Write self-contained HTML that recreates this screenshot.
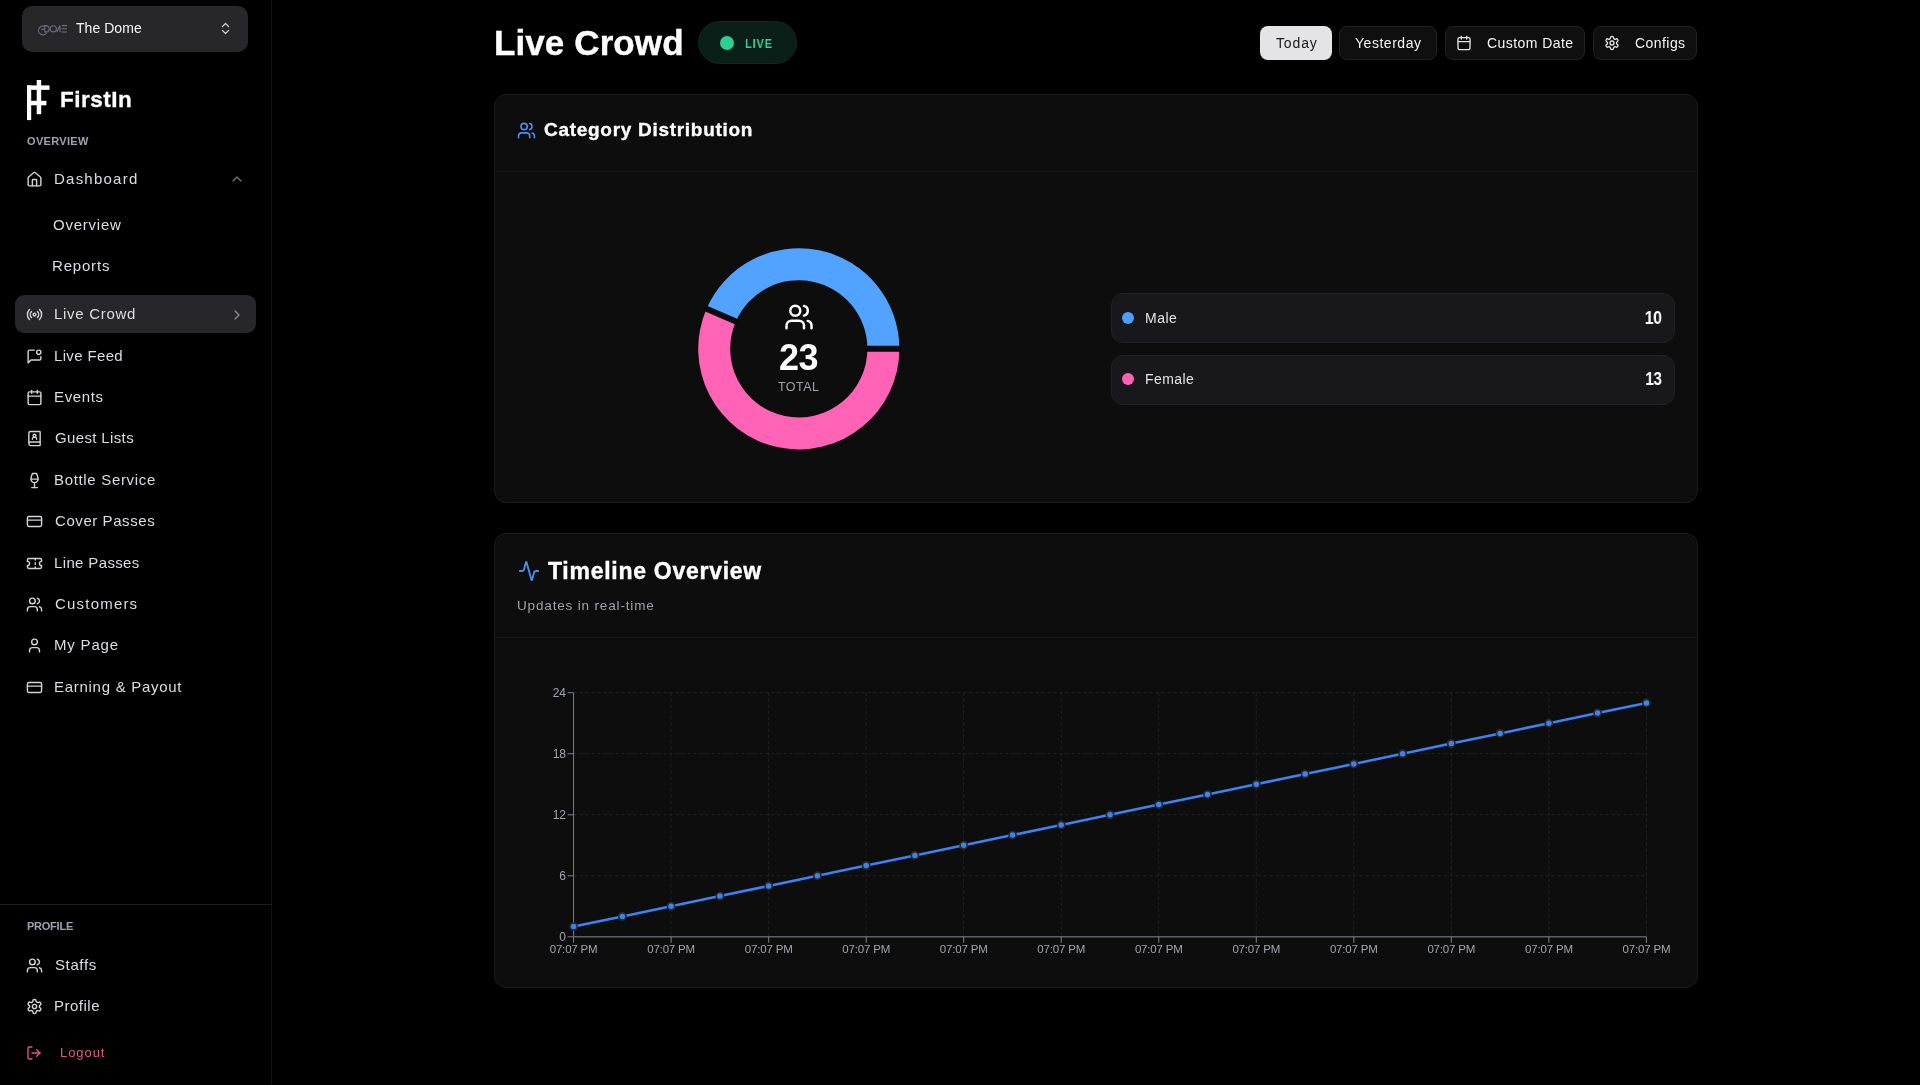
<!DOCTYPE html>
<html><head><meta charset="utf-8">
<style>
*{box-sizing:border-box;margin:0;padding:0}
html,body{width:1920px;height:1085px;overflow:hidden;background:#000;font-family:"Liberation Sans",sans-serif;color:#e4e4e7}
.abs{position:absolute}
.t{position:absolute;line-height:1;white-space:nowrap;will-change:transform}
.box{position:absolute}
</style></head>
<body>
<!-- sidebar -->
<div class="box" style="left:271px;top:0;width:1px;height:1085px;background:#151516"></div>
<div class="box" style="left:0;top:904px;width:271px;height:1px;background:#1d1e21"></div>
<div class="box" style="left:22px;top:6px;width:226px;height:46px;background:#27272a;border-radius:10px"></div>
<svg class="abs" style="left:37px;top:24px" width="31" height="12" viewBox="0 0 31 12"><g fill="none" stroke="#6b7280" stroke-width="1.1"><path d="M8 2.6 A4.4 4.4 0 1 0 9.7 8.6"/><path d="M4.2 5.2 h3" stroke="#8b93a3" stroke-width="0.9"/><path d="M7.8 1.6 v6.4 h1.3 a3.1 3.2 0 0 0 0 -6.4 z"/><circle cx="16.3" cy="4.8" r="3.1"/><path d="M19.8 8 L23 1.6 V8"/><path d="M25 1.6 h5 M24.6 4.8 h5.4 M24.6 8 h5.4"/></g></svg>
<div class="t" style="left:76px;top:21.00px;font-size:14px;letter-spacing:0.05px;color:#f4f4f5">The Dome</div>
<svg class="abs" style="left:218px;top:21px" width="15" height="15" viewBox="0 0 24 24" fill="none" stroke="#d4d4d8" stroke-width="2" stroke-linecap="round" stroke-linejoin="round"><path d="m7 15 5 5 5-5"/><path d="m7 9 5-5 5 5"/></svg>
<svg class="abs" style="left:26.9px;top:79.8px" width="23" height="41" viewBox="0 0 23 41"><g fill="#fff"><rect x="0" y="5.4" width="4.2" height="34.7"/><rect x="9.7" y="0" width="4.5" height="34.2"/><rect x="0" y="5.4" width="22.5" height="4.45"/><rect x="0" y="20.8" width="19.4" height="4.5"/></g></svg>
<div class="t" style="left:60.3px;top:88.80px;font-size:22.5px;letter-spacing:0.5px;color:#fff;font-weight:bold;-webkit-text-stroke:0.3px #fff">FirstIn</div>
<div class="t" style="left:26.8px;top:135.80px;font-size:11px;letter-spacing:0.33px;color:#9ca3af;font-weight:bold">OVERVIEW</div>
<div class="t" style="left:26.6px;top:921.20px;font-size:11px;letter-spacing:-0.24px;color:#9ca3af;font-weight:bold">PROFILE</div>
<div class="box" style="left:15px;top:295.3px;width:241px;height:37.5px;background:#27272a;border-radius:9px"></div>
<svg class="abs" style="left:228.6px;top:171.1px" width="16" height="16" viewBox="0 0 24 24" fill="none" stroke="#71717a" stroke-width="2" stroke-linecap="round" stroke-linejoin="round"><path d="m18 15-6-6-6 6"/></svg>
<svg class="abs" style="left:228.7px;top:306.9px" width="16" height="16" viewBox="0 0 24 24" fill="none" stroke="#8a8a92" stroke-width="2" stroke-linecap="round" stroke-linejoin="round"><path d="m9 18 6-6-6-6"/></svg>
<svg class="abs" style="left:26.4px;top:170.55px" width="17" height="17" viewBox="0 0 24 24" fill="none" stroke="#d4d4d8" stroke-width="2" stroke-linecap="round" stroke-linejoin="round"><path d="M15 21v-8a1 1 0 0 0-1-1h-4a1 1 0 0 0-1 1v8"/><path d="M3 10a2 2 0 0 1 .709-1.528l7-5.999a2 2 0 0 1 2.582 0l7 5.999A2 2 0 0 1 21 10v9a2 2 0 0 1-2 2H5a2 2 0 0 1-2-2z"/></svg>
<div class="t" style="left:54px;top:170.75px;font-size:15px;letter-spacing:1.23px;color:#dcdde2">Dashboard</div>
<div class="t" style="left:53px;top:217.00px;font-size:15px;letter-spacing:0.77px;color:#dcdde2">Overview</div>
<div class="t" style="left:52px;top:257.90px;font-size:15px;letter-spacing:0.81px;color:#dcdde2">Reports</div>
<svg class="abs" style="left:26.4px;top:305.8px" width="17" height="17" viewBox="0 0 24 24" fill="none" stroke="#d4d4d8" stroke-width="2" stroke-linecap="round" stroke-linejoin="round"><path d="M4.9 19.1C1 15.2 1 8.8 4.9 4.9"/><path d="M7.8 16.2c-2.3-2.3-2.3-6.1 0-8.5"/><circle cx="12" cy="12" r="2"/><path d="M16.2 7.8c2.3 2.3 2.3 6.1 0 8.5"/><path d="M19.1 4.9C23 8.8 23 15.1 19.1 19"/></svg>
<div class="t" style="left:54px;top:306.00px;font-size:15px;letter-spacing:0.7px;color:#dcdde2">Live Crowd</div>
<svg class="abs" style="left:26.4px;top:347.6px" width="17" height="17" viewBox="0 0 24 24" fill="none" stroke="#d4d4d8" stroke-width="2" stroke-linecap="round" stroke-linejoin="round"><path d="M11.7 3H5a2 2 0 0 0-2 2v16l4-4h12a2 2 0 0 0 2-2v-2.7"/><circle cx="18" cy="6" r="3"/></svg>
<div class="t" style="left:54px;top:347.80px;font-size:15px;letter-spacing:0.35px;color:#dcdde2">Live Feed</div>
<svg class="abs" style="left:26.4px;top:388.7px" width="17" height="17" viewBox="0 0 24 24" fill="none" stroke="#d4d4d8" stroke-width="2" stroke-linecap="round" stroke-linejoin="round"><path d="M8 2v4"/><path d="M16 2v4"/><rect width="18" height="18" x="3" y="4" rx="2"/><path d="M3 10h18"/></svg>
<div class="t" style="left:54px;top:388.90px;font-size:15px;letter-spacing:0.65px;color:#dcdde2">Events</div>
<svg class="abs" style="left:26.4px;top:430.0px" width="17" height="17" viewBox="0 0 24 24" fill="none" stroke="#d4d4d8" stroke-width="2" stroke-linecap="round" stroke-linejoin="round"><path d="M15 13a3 3 0 1 0-6 0"/><path d="M4 19.5v-15A2.5 2.5 0 0 1 6.5 2H19a1 1 0 0 1 1 1v18a1 1 0 0 1-1 1H6.5a1 1 0 0 1 0-5H20"/><circle cx="12" cy="8" r="2"/></svg>
<div class="t" style="left:55px;top:430.20px;font-size:15px;letter-spacing:0.36px;color:#dcdde2">Guest Lists</div>
<svg class="abs" style="left:26.4px;top:471.5px" width="17" height="17" viewBox="0 0 24 24" fill="none" stroke="#d4d4d8" stroke-width="2" stroke-linecap="round" stroke-linejoin="round"><path d="M8 22h8"/><path d="M7 10h10"/><path d="M12 15v7"/><path d="M12 15a5 5 0 0 0 5-5c0-2-.5-4-2-8H9c-1.5 4-2 6-2 8a5 5 0 0 0 5 5Z"/></svg>
<div class="t" style="left:54px;top:471.70px;font-size:15px;letter-spacing:0.67px;color:#dcdde2">Bottle Service</div>
<svg class="abs" style="left:26.4px;top:512.9px" width="17" height="17" viewBox="0 0 24 24" fill="none" stroke="#d4d4d8" stroke-width="2" stroke-linecap="round" stroke-linejoin="round"><rect width="20" height="14" x="2" y="5" rx="2"/><line x1="2" x2="22" y1="10" y2="10"/></svg>
<div class="t" style="left:55px;top:513.10px;font-size:15px;letter-spacing:0.57px;color:#dcdde2">Cover Passes</div>
<svg class="abs" style="left:26.4px;top:554.7px" width="17" height="17" viewBox="0 0 24 24" fill="none" stroke="#d4d4d8" stroke-width="2" stroke-linecap="round" stroke-linejoin="round"><path d="M2 9a3 3 0 0 1 0 6v2a2 2 0 0 0 2 2h16a2 2 0 0 0 2-2v-2a3 3 0 0 1 0-6V7a2 2 0 0 0-2-2H4a2 2 0 0 0-2 2Z"/><path d="M13 5v2"/><path d="M13 17v2"/><path d="M13 11v2"/></svg>
<div class="t" style="left:54px;top:554.90px;font-size:15px;letter-spacing:0.36px;color:#dcdde2">Line Passes</div>
<svg class="abs" style="left:26.4px;top:595.9px" width="17" height="17" viewBox="0 0 24 24" fill="none" stroke="#d4d4d8" stroke-width="2" stroke-linecap="round" stroke-linejoin="round"><path d="M16 21v-2a4 4 0 0 0-4-4H6a4 4 0 0 0-4 4v2"/><circle cx="9" cy="7" r="4"/><path d="M22 21v-2a4 4 0 0 0-3-3.87"/><path d="M16 3.13a4 4 0 0 1 0 7.75"/></svg>
<div class="t" style="left:55px;top:596.10px;font-size:15px;letter-spacing:1.2px;color:#dcdde2">Customers</div>
<svg class="abs" style="left:26.4px;top:636.8px" width="17" height="17" viewBox="0 0 24 24" fill="none" stroke="#d4d4d8" stroke-width="2" stroke-linecap="round" stroke-linejoin="round"><path d="M19 21v-2a4 4 0 0 0-4-4H9a4 4 0 0 0-4 4v2"/><circle cx="12" cy="7" r="4"/></svg>
<div class="t" style="left:54px;top:637.00px;font-size:15px;letter-spacing:0.81px;color:#dcdde2">My Page</div>
<svg class="abs" style="left:26.4px;top:678.5px" width="17" height="17" viewBox="0 0 24 24" fill="none" stroke="#d4d4d8" stroke-width="2" stroke-linecap="round" stroke-linejoin="round"><rect width="20" height="14" x="2" y="5" rx="2"/><line x1="2" x2="22" y1="10" y2="10"/></svg>
<div class="t" style="left:54px;top:678.70px;font-size:15px;letter-spacing:0.72px;color:#dcdde2">Earning &amp; Payout</div>
<svg class="abs" style="left:26.4px;top:956.8px" width="17" height="17" viewBox="0 0 24 24" fill="none" stroke="#d4d4d8" stroke-width="2" stroke-linecap="round" stroke-linejoin="round"><path d="M16 21v-2a4 4 0 0 0-4-4H6a4 4 0 0 0-4 4v2"/><circle cx="9" cy="7" r="4"/><path d="M22 21v-2a4 4 0 0 0-3-3.87"/><path d="M16 3.13a4 4 0 0 1 0 7.75"/></svg>
<div class="t" style="left:55px;top:957.00px;font-size:15px;letter-spacing:0.62px;color:#dcdde2">Staffs</div>
<svg class="abs" style="left:26.4px;top:997.9px" width="17" height="17" viewBox="0 0 24 24" fill="none" stroke="#d4d4d8" stroke-width="2" stroke-linecap="round" stroke-linejoin="round"><path d="M12.22 2h-.44a2 2 0 0 0-2 2v.18a2 2 0 0 1-1 1.73l-.43.25a2 2 0 0 1-2 0l-.15-.08a2 2 0 0 0-2.73.73l-.22.38a2 2 0 0 0 .73 2.73l.15.1a2 2 0 0 1 1 1.72v.51a2 2 0 0 1-1 1.74l-.15.09a2 2 0 0 0-.73 2.73l.22.38a2 2 0 0 0 2.73.73l.15-.08a2 2 0 0 1 2 0l.43.25a2 2 0 0 1 1 1.73V20a2 2 0 0 0 2 2h.44a2 2 0 0 0 2-2v-.18a2 2 0 0 1 1-1.73l.43-.25a2 2 0 0 1 2 0l.15.08a2 2 0 0 0 2.73-.73l.22-.39a2 2 0 0 0-.73-2.73l-.15-.08a2 2 0 0 1-1-1.74v-.5a2 2 0 0 1 1-1.74l.15-.09a2 2 0 0 0 .73-2.73l-.22-.38a2 2 0 0 0-2.73-.73l-.15.08a2 2 0 0 1-2 0l-.43-.25a2 2 0 0 1-1-1.73V4a2 2 0 0 0-2-2z"/><circle cx="12" cy="12" r="3"/></svg>
<div class="t" style="left:54px;top:998.10px;font-size:15px;letter-spacing:0.5px;color:#dcdde2">Profile</div>
<svg class="abs" style="left:26px;top:1045.2px" width="16" height="16" viewBox="0 0 24 24" fill="none" stroke="#e0588a" stroke-width="2" stroke-linecap="round" stroke-linejoin="round"><path d="M9 21H5a2 2 0 0 1-2-2V5a2 2 0 0 1 2-2h4"/><polyline points="16 17 21 12 16 7"/><line x1="21" x2="9" y1="12" y2="12"/></svg>
<div class="t" style="left:59.8px;top:1046.40px;font-size:13px;letter-spacing:0.93px;color:#e0588a">Logout</div>

<!-- header -->
<div class="t" style="left:493.8px;top:24.90px;font-size:35px;letter-spacing:0.1px;color:#fff;font-weight:bold;-webkit-text-stroke:0.4px #fff">Live Crowd</div>
<div class="box" style="left:698px;top:21px;width:99px;height:43px;border-radius:22px;background:#0a1f17;border:1px solid #0e2a1f"></div>
<div class="box" style="left:720.2px;top:35.5px;width:14px;height:14px;border-radius:7px;background:#2fcf93"></div>
<div class="t" style="left:744.9px;top:36.80px;font-size:13.5px;letter-spacing:1.0px;color:#34d399;font-weight:bold;transform:scaleX(0.82);transform-origin:left">LIVE</div>

<div class="box" style="left:1260px;top:25.5px;width:71.5px;height:34px;border-radius:8px;background:#e4e4e7"></div>
<div class="t" style="left:1275.6px;top:35.90px;font-size:14px;letter-spacing:0.86px;color:#18181b">Today</div>
<div class="box" style="left:1339px;top:25.5px;width:98px;height:34px;border-radius:8px;background:#0f0f0f;border:1px solid #222"></div>
<div class="t" style="left:1355px;top:35.90px;font-size:14px;letter-spacing:0.53px;color:#f4f4f5">Yesterday</div>
<div class="box" style="left:1444.5px;top:25.5px;width:140.5px;height:34px;border-radius:8px;background:#0f0f0f;border:1px solid #222"></div>
<svg class="abs" style="left:1456.3px;top:34.7px" width="16" height="16" viewBox="0 0 24 24" fill="none" stroke="#e4e4e7" stroke-width="2" stroke-linecap="round" stroke-linejoin="round"><path d="M8 2v4"/><path d="M16 2v4"/><rect width="18" height="18" x="3" y="4" rx="2"/><path d="M3 10h18"/></svg>
<div class="t" style="left:1486.7px;top:36.00px;font-size:14px;letter-spacing:0.44px;color:#f4f4f5">Custom Date</div>
<div class="box" style="left:1593px;top:25.5px;width:104px;height:34px;border-radius:8px;background:#0f0f0f;border:1px solid #222"></div>
<svg class="abs" style="left:1604.3px;top:34.7px" width="16" height="16" viewBox="0 0 24 24" fill="none" stroke="#e4e4e7" stroke-width="2" stroke-linecap="round" stroke-linejoin="round"><path d="M12.22 2h-.44a2 2 0 0 0-2 2v.18a2 2 0 0 1-1 1.73l-.43.25a2 2 0 0 1-2 0l-.15-.08a2 2 0 0 0-2.73.73l-.22.38a2 2 0 0 0 .73 2.73l.15.1a2 2 0 0 1 1 1.72v.51a2 2 0 0 1-1 1.74l-.15.09a2 2 0 0 0-.73 2.73l.22.38a2 2 0 0 0 2.73.73l.15-.08a2 2 0 0 1 2 0l.43.25a2 2 0 0 1 1 1.73V20a2 2 0 0 0 2 2h.44a2 2 0 0 0 2-2v-.18a2 2 0 0 1 1-1.73l.43-.25a2 2 0 0 1 2 0l.15.08a2 2 0 0 0 2.73-.73l.22-.39a2 2 0 0 0-.73-2.73l-.15-.08a2 2 0 0 1-1-1.74v-.5a2 2 0 0 1 1-1.74l.15-.09a2 2 0 0 0 .73-2.73l-.22-.38a2 2 0 0 0-2.73-.73l-.15.08a2 2 0 0 1-2 0l-.43-.25a2 2 0 0 1-1-1.73V4a2 2 0 0 0-2-2z"/><circle cx="12" cy="12" r="3"/></svg>
<div class="t" style="left:1635px;top:36.00px;font-size:14px;letter-spacing:0.44px;color:#f4f4f5">Configs</div>

<!-- card 1 -->
<div class="box" style="left:494px;top:94px;width:1204px;height:409px;background:#0d0d0d;border:1px solid #1a1a1a;border-radius:12px"></div>
<div class="box" style="left:495px;top:171px;width:1202px;height:1px;background:#141414"></div>
<svg class="abs" style="left:517.2px;top:120.8px" width="19" height="19" viewBox="0 0 24 24" fill="none" stroke="#4a90f0" stroke-width="2" stroke-linecap="round" stroke-linejoin="round"><path d="M16 21v-2a4 4 0 0 0-4-4H6a4 4 0 0 0-4 4v2"/><circle cx="9" cy="7" r="4"/><path d="M22 21v-2a4 4 0 0 0-3-3.87"/><path d="M16 3.13a4 4 0 0 1 0 7.75"/></svg>
<div class="t" style="left:544.1px;top:120.00px;font-size:19px;letter-spacing:0.71px;color:#fff;font-weight:bold;-webkit-text-stroke:0.35px #fff">Category Distribution</div>
<svg class="abs" style="left:0;top:0" width="1920" height="1085" viewBox="0 0 1920 1085">
<path d="M899.40 348.80 A100.6 100.6 0 0 0 706.53 308.72 L735.88 321.47 A68.6 68.6 0 0 1 867.40 348.80 Z" fill="#52a2ff"/>
<path d="M706.53 308.72 A100.6 100.6 0 1 0 899.40 348.80 L867.40 348.80 A68.6 68.6 0 1 1 735.88 321.47 Z" fill="#fe63b5"/>
<path d="M865.40 348.80L901.40 348.80 M737.71 322.27L704.69 307.92" stroke="#0a0a0a" stroke-width="5.9"/>
</svg>
<svg class="abs" style="left:783.75px;top:301.7px" width="30" height="30" viewBox="0 0 24 24" fill="none" stroke="#fff" stroke-width="2" stroke-linecap="round" stroke-linejoin="round"><path d="M16 21v-2a4 4 0 0 0-4-4H6a4 4 0 0 0-4 4v2"/><circle cx="9" cy="7" r="4"/><path d="M22 21v-2a4 4 0 0 0-3-3.87"/><path d="M16 3.13a4 4 0 0 1 0 7.75"/></svg>
<div class="t" style="left:778.7px;top:339.70px;font-size:36px;letter-spacing:-0.62px;color:#fff;font-weight:bold">23</div>
<div class="t" style="left:778.2px;top:380.80px;font-size:12.5px;letter-spacing:0.46px;color:#a1a1aa">TOTAL</div>
<div class="box" style="left:1111px;top:293.3px;width:564px;height:49.5px;border-radius:12px;background:#18181b;border:1px solid #222225"></div>
<div class="box" style="left:1111px;top:354.8px;width:564px;height:49.8px;border-radius:12px;background:#18181b;border:1px solid #222225"></div>
<div class="box" style="left:1122.3px;top:312.2px;width:11.8px;height:11.8px;border-radius:6px;background:#4d9fff"></div>
<div class="box" style="left:1122.3px;top:373.3px;width:11.8px;height:11.8px;border-radius:6px;background:#ff5fb4"></div>
<div class="t" style="left:1144.7px;top:311.10px;font-size:14px;letter-spacing:0.51px;color:#e4e4e7">Male</div>
<div class="t" style="left:1144.7px;top:371.80px;font-size:14px;letter-spacing:0.4px;color:#e4e4e7">Female</div>
<div class="t" style="right:258.79999999999995px;top:309.2px;font-size:18.5px;font-weight:bold;color:#fff;letter-spacing:-0.5px;transform:scaleX(0.86);transform-origin:right">10</div>
<div class="t" style="right:258.79999999999995px;top:369.9px;font-size:18.5px;font-weight:bold;color:#fff;letter-spacing:-0.5px;transform:scaleX(0.83);transform-origin:right">13</div>

<!-- card 2 -->
<div class="box" style="left:494px;top:533px;width:1204px;height:455px;background:#0d0d0d;border:1px solid #1a1a1a;border-radius:12px"></div>
<div class="box" style="left:495px;top:637px;width:1202px;height:1px;background:#171717"></div>
<svg class="abs" style="left:517.5px;top:560.4px" width="22" height="22" viewBox="0 0 24 24" fill="none" stroke="#4a90f0" stroke-width="2" stroke-linecap="round" stroke-linejoin="round"><path d="M22 12h-2.48a2 2 0 0 0-1.93 1.46l-2.35 8.36a.25.25 0 0 1-.48 0L9.24 2.18a.25.25 0 0 0-.48 0l-2.35 8.36A2 2 0 0 1 4.49 12H2"/></svg>
<div class="t" style="left:547.9px;top:559.70px;font-size:23px;letter-spacing:0.73px;color:#fff;font-weight:bold;-webkit-text-stroke:0.4px #fff">Timeline Overview</div>
<div class="t" style="left:517.2px;top:599.30px;font-size:13.5px;letter-spacing:0.84px;color:#a1a1aa">Updates in real-time</div>
<svg class="abs" style="left:0;top:0" width="1920" height="1085" viewBox="0 0 1920 1085">
<path d="M573.6 875.8H1646.4 M573.6 814.8H1646.4 M573.6 753.7H1646.4 M573.6 692.7H1646.4 M671.1 692.7V936.8 M768.7 692.7V936.8 M866.2 692.7V936.8 M963.7 692.7V936.8 M1061.2 692.7V936.8 M1158.8 692.7V936.8 M1256.3 692.7V936.8 M1353.8 692.7V936.8 M1451.3 692.7V936.8 M1548.9 692.7V936.8 M1646.4 692.7V936.8" stroke="#242424" stroke-width="1" stroke-dasharray="3 3" fill="none"/>
<path d="M573.6 692.7V936.8" stroke="#7c818a" stroke-width="1" fill="none"/>
<path d="M573.6 936.8H1646.4" stroke="#5c6068" stroke-width="1.5" fill="none"/>
<path d="M567.6 936.8H573.6 M567.6 875.8H573.6 M567.6 814.8H573.6 M567.6 753.7H573.6 M567.6 692.7H573.6 M573.6 936.8V942.8 M671.1 936.8V942.8 M768.7 936.8V942.8 M866.2 936.8V942.8 M963.7 936.8V942.8 M1061.2 936.8V942.8 M1158.8 936.8V942.8 M1256.3 936.8V942.8 M1353.8 936.8V942.8 M1451.3 936.8V942.8 M1548.9 936.8V942.8 M1646.4 936.8V942.8" stroke="#7c818a" stroke-width="1" fill="none"/>
<g font-family="Liberation Sans" font-size="11.5" fill="#a1a5ad" letter-spacing="-0.18"><text x="565.6" y="941.1" text-anchor="end" font-size="12" letter-spacing="-0.3">0</text><text x="565.6" y="880.1" text-anchor="end" font-size="12" letter-spacing="-0.3">6</text><text x="565.6" y="819.0" text-anchor="end" font-size="12" letter-spacing="-0.3">12</text><text x="565.6" y="758.0" text-anchor="end" font-size="12" letter-spacing="-0.3">18</text><text x="565.6" y="697.0" text-anchor="end" font-size="12" letter-spacing="-0.3">24</text><text x="573.6" y="952.8" text-anchor="middle">07:07 PM</text><text x="671.1" y="952.8" text-anchor="middle">07:07 PM</text><text x="768.7" y="952.8" text-anchor="middle">07:07 PM</text><text x="866.2" y="952.8" text-anchor="middle">07:07 PM</text><text x="963.7" y="952.8" text-anchor="middle">07:07 PM</text><text x="1061.2" y="952.8" text-anchor="middle">07:07 PM</text><text x="1158.8" y="952.8" text-anchor="middle">07:07 PM</text><text x="1256.3" y="952.8" text-anchor="middle">07:07 PM</text><text x="1353.8" y="952.8" text-anchor="middle">07:07 PM</text><text x="1451.3" y="952.8" text-anchor="middle">07:07 PM</text><text x="1548.9" y="952.8" text-anchor="middle">07:07 PM</text><text x="1646.4" y="952.8" text-anchor="middle">07:07 PM</text></g>
<path d="M573.6 926.6 L622.4 916.5 L671.1 906.3 L719.9 896.1 L768.7 885.9 L817.4 875.8 L866.2 865.6 L914.9 855.4 L963.7 845.3 L1012.5 835.1 L1061.2 824.9 L1110.0 814.8 L1158.8 804.6 L1207.5 794.4 L1256.3 784.2 L1305.1 774.1 L1353.8 763.9 L1402.6 753.7 L1451.3 743.6 L1500.1 733.4 L1548.9 723.2 L1597.6 713.0 L1646.4 702.9" stroke="#3b82f6" stroke-width="2.6" fill="none" stroke-linejoin="round"/>
<g fill="#3b82f6" stroke="#2a2a2a" stroke-width="1.7"><circle cx="573.6" cy="926.6" r="3.6"/><circle cx="622.4" cy="916.5" r="3.6"/><circle cx="671.1" cy="906.3" r="3.6"/><circle cx="719.9" cy="896.1" r="3.6"/><circle cx="768.7" cy="885.9" r="3.6"/><circle cx="817.4" cy="875.8" r="3.6"/><circle cx="866.2" cy="865.6" r="3.6"/><circle cx="914.9" cy="855.4" r="3.6"/><circle cx="963.7" cy="845.3" r="3.6"/><circle cx="1012.5" cy="835.1" r="3.6"/><circle cx="1061.2" cy="824.9" r="3.6"/><circle cx="1110.0" cy="814.8" r="3.6"/><circle cx="1158.8" cy="804.6" r="3.6"/><circle cx="1207.5" cy="794.4" r="3.6"/><circle cx="1256.3" cy="784.2" r="3.6"/><circle cx="1305.1" cy="774.1" r="3.6"/><circle cx="1353.8" cy="763.9" r="3.6"/><circle cx="1402.6" cy="753.7" r="3.6"/><circle cx="1451.3" cy="743.6" r="3.6"/><circle cx="1500.1" cy="733.4" r="3.6"/><circle cx="1548.9" cy="723.2" r="3.6"/><circle cx="1597.6" cy="713.0" r="3.6"/><circle cx="1646.4" cy="702.9" r="3.6"/></g>
</svg>
</body></html>
